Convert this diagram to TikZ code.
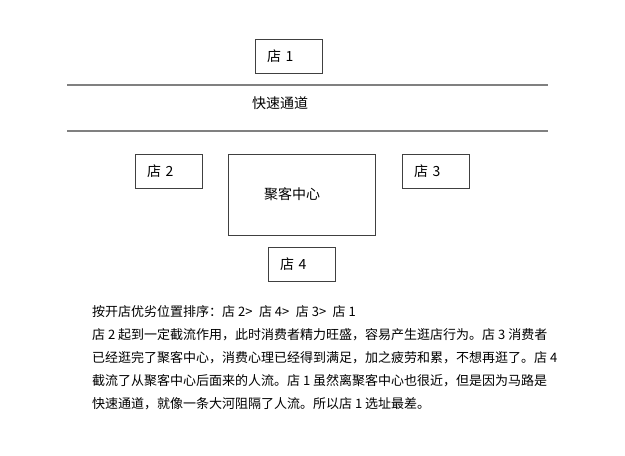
\documentclass[tikz,border=0pt]{standalone}
\usepackage{fontspec}
\setmainfont{Noto Sans CJK SC}
\usepackage{tikz}
\usetikzlibrary{positioning}

\begin{document}
\begin{tikzpicture}[x=1pt, y=-1pt,
          shop/.style={draw=black!75, line width=0.8pt, minimum height=34pt,
                       inner xsep=12pt, text width=43pt, align=left,
                       font=\fontsize{14}{16}\selectfont},
          hub/.style={draw=black!75, line width=0.8pt, minimum height=81pt,
                      inner xsep=36pt, text width=75pt, align=left,
                      font=\fontsize{14}{16}\selectfont},
          road/.style={draw=black!50, line width=1.6pt},
          para/.style={anchor=west, inner sep=0pt, font=\fontsize{13}{15}\selectfont}
        ]
        \useasboundingbox (0,0) rectangle (625,456);

        % road
        \coordinate (roadNW) at (67,85);
        \coordinate (roadNE) at (548,85);
        \coordinate (roadSW) at (67,131);
        \coordinate (roadSE) at (548,131);
        \draw[road] (roadNW) -- (roadNE);
        \draw[road] (roadSW) -- (roadSE);
        \node[font=\fontsize{14}{16}\selectfont] (fast) at (280,103) {快速通道};

        % shops
        \node[shop] (shop1) at (288.5,56) {店 1};
        \node[shop] (shop2) at (168.5,171.5) {店 2};
        \node[shop] (shop3) at (435.5,171.5) {店 3};
        \node[hub]  (center) at (301.5,194.5) {聚客中心};
        \node[shop] (shop4) at (301.5,264.5) {店 4};

        % explanation
        \node[para] (line1) at (92,312) {按开店优劣位置排序：店 2>\hspace{0.5em}店 4>\hspace{0.5em}店 3>\hspace{0.5em}店 1};
        \node[para] (line2) at (92,335) {店 2 起到一定截流作用，此时消费者精力旺盛，容易产生逛店行为。店 3 消费者};
        \node[para] (line3) at (92,358) {已经逛完了聚客中心，消费心理已经得到满足，加之疲劳和累，不想再逛了。店 4};
        \node[para] (line4) at (92,381) {截流了从聚客中心后面来的人流。店 1 虽然离聚客中心也很近，但是因为马路是};
        \node[para] (line5) at (92,404) {快速通道，就像一条大河阻隔了人流。所以店 1 选址最差。};
      \end{tikzpicture}
\end{document}
